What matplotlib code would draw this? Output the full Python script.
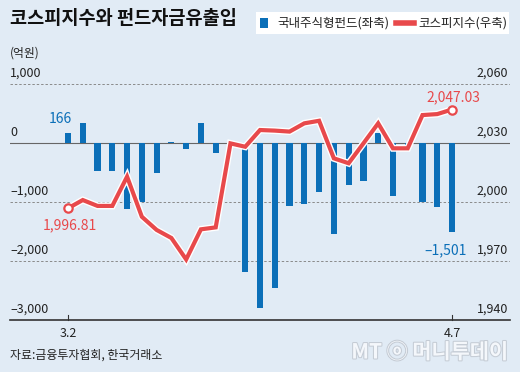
import matplotlib
matplotlib.use('Agg')
import matplotlib.pyplot as plt
import matplotlib.patheffects as pe
from matplotlib.patches import Rectangle
from matplotlib.lines import Line2D
import numpy as np

plt.rcParams['font.family'] = ['Noto Sans CJK KR', 'DejaVu Sans']

# daily fund flow (억원) and KOSPI close, 2015-03-02 .. 2015-04-07
fund_flow = [166, 340, -480, -475, -1125, -1000, -500, 25, -100, 345, -175,
             -60, -2190, -2800, -2450, -1075, -1035, -830, -1537, -710, -650,
             170, -895, -40, -995, -1080, -1501]
kospi = [1996.81, 2001.0, 1998.0, 1998.0, 2012.9, 1992.5, 1985.8, 1981.7,
         1970.8, 1986.1, 1987.1, 2029.8, 2028.1, 2036.6, 2036.3, 2035.8,
         2040.0, 2041.3, 2022.2, 2019.7, 2029.8, 2040.0, 2027.3, 2027.3,
         2044.2, 2044.7, 2047.03]
date_labels = {0: '3.2', 26: '4.7'}
left_ticks = [1000, 0, -1000, -2000, -3000]
right_ticks = [2060, 2030, 2000, 1970, 1940]

bg = '#e1ebf5'
blue = '#0b6fb8'
red = '#e8494b'

fig = plt.figure(figsize=(5.2, 3.72), dpi=100, facecolor=bg)
W, H = 520, 372
x0, dx = 68, 14.77
left_px, right_px = 10, 510
top_px, bot_px = 84, 320
ax = fig.add_axes([left_px / W, 1 - bot_px / H, (right_px - left_px) / W, (bot_px - top_px) / H])
ax.set_facecolor(bg)
x = np.arange(len(fund_flow))
ax.set_xlim((left_px - x0) / dx, (right_px - x0) / dx)
ax.set_ylim(-3000, 1000)
for s in ax.spines.values():
    s.set_visible(False)
ax.set_xticks([])
ax.set_yticks([])

# grid lines
for v in left_ticks:
    if v == 0:
        ax.axhline(v, color='#666666', lw=0.8, zorder=1)
    elif v == -3000:
        ax.axhline(v, color='#333333', lw=1.2, zorder=1, clip_on=False)
    else:
        ax.axhline(v, color='#8a8a8a', lw=0.7, ls=(0, (2.5, 2)), zorder=1)

ax.bar(x, fund_flow, width=0.42, color=blue, zorder=2)

ax2 = ax.twinx()
ax2.set_ylim(1940, 2060)
ax2.set_xlim(ax.get_xlim())
for s in ax2.spines.values():
    s.set_visible(False)
ax2.set_yticks([])
ax2.plot(x, kospi, color=red, lw=3, zorder=3, solid_joinstyle='miter',
         path_effects=[pe.Stroke(linewidth=5, foreground='white'), pe.Normal()])
ax2.plot([x[0], x[-1]], [kospi[0], kospi[-1]], 'o', ms=6, mfc='white', mec=red, mew=1.6, zorder=4)

# axis labels above grid lines
for v in left_ticks:
    ax.text(0, v + 70, f'{v:,}'.replace('-', '\u2013'), transform=ax.get_yaxis_transform(),
            ha='left', va='bottom', fontsize=9, color='#222222')
for v in right_ticks:
    ax2.text(0.996, v + 2, f'{v:,}', transform=ax2.get_yaxis_transform(),
             ha='right', va='bottom', fontsize=9, color='#222222')

# date ticks
for i, lab in date_labels.items():
    ax.plot([i, i], [-3000, -2920], color='#333333', lw=0.8, clip_on=False)
    ax.text(i, -3120, lab, ha='center', va='top', fontsize=9, color='#222222')

# value annotations
ax.text(x[0] - 0.5, fund_flow[0] + 130, f'{fund_flow[0]:,}', ha='center', va='bottom',
        fontsize=10, color=blue)
ax.text(x[-1] - 0.45, fund_flow[-1] - 200, f'{fund_flow[-1]:,}'.replace('-', '\u2013'),
        ha='center', va='top', fontsize=10, color=blue)
ax2.text(x[0] + 0.1, kospi[0] - 5, f'{kospi[0]:,.2f}', ha='center', va='top',
         fontsize=10, color=red)
ax2.text(x[-1] + 0.1, kospi[-1] + 2.5, f'{kospi[-1]:,.2f}', ha='center', va='bottom',
         fontsize=10, color=red)

# title, unit, legend
fig.text(10 / W, 1 - 18 / H, '코스피지수와 펀드자금유출입', fontsize=13.4, fontweight='bold',
         va='center', ha='left', color='#111111')
fig.text(10 / W, 1 - 53 / H, '(억원)', fontsize=8.5, va='center', ha='left', color='#222222')
fig.patches.append(Rectangle((256 / W, 1 - 34 / H), 253 / W, 22 / H, transform=fig.transFigure,
                             facecolor='white', edgecolor='none', zorder=0))
fig.patches.append(Rectangle((260 / W, 1 - 28 / H), 8 / W, 10 / H, transform=fig.transFigure,
                             facecolor=blue, edgecolor='none'))
fig.text(277 / W, 1 - 23 / H, '국내주식형펀드(좌축)', fontsize=9, va='center', ha='left', color='#222222')
fig.lines.append(Line2D([396 / W, 414 / W], [1 - 23 / H, 1 - 23 / H], transform=fig.transFigure,
                        color=red, lw=4))
fig.text(418 / W, 1 - 23 / H, '코스피지수(우축)', fontsize=9, va='center', ha='left', color='#222222')

# source and watermark
fig.text(10 / W, 1 - 355 / H, '자료:금융투자협회, 한국거래소', fontsize=8.6, va='center', ha='left',
         color='#222222')
fig.text(508 / W, 1 - 352 / H, 'MT ⓞ 머니투데이', fontsize=15, va='center', ha='right',
         color='#f4f7fb', fontweight='bold',
         path_effects=[pe.withStroke(linewidth=1.5, foreground='#c5ccd5')])

fig.savefig('out.png', dpi=100, facecolor=bg)
